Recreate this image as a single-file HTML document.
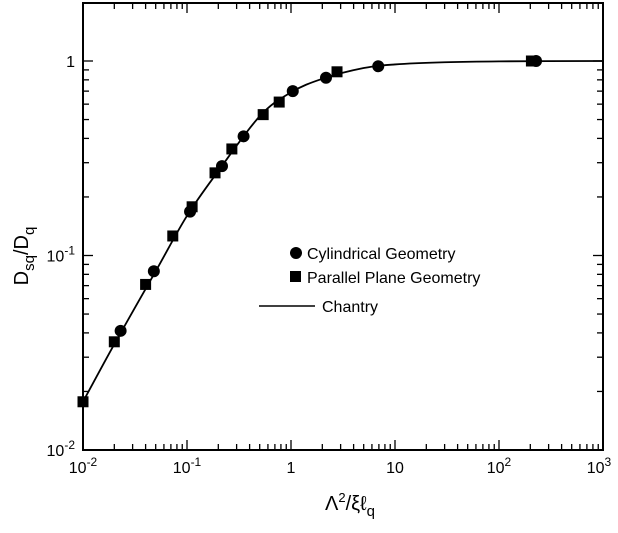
<!DOCTYPE html>
<html><head><meta charset="utf-8"><style>
body{margin:0;background:#fff}
svg{display:block;font-family:"Liberation Sans",Arial,sans-serif}
</style></head><body>
<svg id="chart" width="618" height="533" viewBox="0 0 618 533">
<g id="axes"></g>
<g id="curve"></g>
<g id="pts"></g>
<g>
 <circle cx="296" cy="253" r="6" fill="#000"/>
 <text x="307" y="259" font-size="16">Cylindrical Geometry</text>
 <rect x="290" y="271" width="11" height="11" fill="#000"/>
 <text x="307" y="283" font-size="16">Parallel Plane Geometry</text>
 <line x1="259" y1="306" x2="315" y2="306" stroke="#000" stroke-width="1.5"/>
 <text x="322" y="312" font-size="16">Chantry</text>
</g>
<text x="350" y="510" font-size="20" text-anchor="middle">Λ<tspan dy="-8" font-size="13">2</tspan><tspan dy="8">/ξℓ</tspan><tspan dy="6" font-size="15">q</tspan></text>
<text transform="translate(28,256) rotate(-90)" font-size="20" text-anchor="middle">D<tspan dy="6" font-size="15">sq</tspan><tspan dy="-6">/D</tspan><tspan dy="6" font-size="15">q</tspan></text>
</svg>
<script>
const xTickLabels=["10^-2","10^-1","1","10","10^2","10^3"];
const yTickLabels=["10^-2","10^-1","1"];
const cylX=[0.023,0.048,0.107,0.217,0.35,1.04,2.17,6.9,227];
const cylY=[0.041,0.083,0.168,0.288,0.41,0.70,0.82,0.94,1.0];
const sqX=[0.010,0.020,0.040,0.073,0.112,0.186,0.27,0.54,0.77,2.77,205];
const sqY=[0.0177,0.036,0.071,0.126,0.178,0.266,0.353,0.53,0.615,0.88,1.0];
const curveX=[0.01,0.02,0.05,0.1,0.2,0.5,1,2,5,10,30,100,1000];
const curveY=[0.0177,0.035,0.083,0.16,0.272,0.52,0.69,0.81,0.92,0.96,0.985,0.996,1.0];

const L=83,R=603,T=3,B=450;
const X=v=>L+(Math.log10(v)+2)*104;
const Y=v=>61-Math.log10(v)*194.5;
const NS="http://www.w3.org/2000/svg";
function mk(tag,at,parent){const e=document.createElementNS(NS,tag);for(const k in at)e.setAttribute(k,at[k]);parent.appendChild(e);return e;}
const ax=document.getElementById('axes');
const fr=mk('rect',{x:L,y:T,width:R-L,height:B-T,fill:'none',stroke:'#000','stroke-width':2},ax);


function lab(parent,x,y,s,anchor){const t=mk('text',{x:x,y:y,'font-size':16,'text-anchor':anchor},parent);
 const m=s.match(/^10\^(.*)$/);
 if(m){t.appendChild(document.createTextNode('10'));const ts=mk('tspan',{dy:-7,'font-size':12},t);ts.textContent=m[1];}
 else t.textContent=s;return t;}
for(let d=-2;d<=3;d++){
 for(let k=1;k<10;k++){
  if(d===3&&k>1)break;
  const v=k*Math.pow(10,d),x=X(v),len=k===1?10:6;
  const a=mk('line',{x1:x,y1:B,x2:x,y2:B-len,stroke:'#000','stroke-width':1.3},ax);
  
  
  const b=mk('line',{x1:x,y1:T,x2:x,y2:T+len,stroke:'#000','stroke-width':1.3},ax);
  
  
 }
}
xTickLabels.forEach((s,i)=>{const t=lab(ax,X(Math.pow(10,i-2))+(i===5?-4:0),473,s,'middle');
 
 });
for(let d=-2;d<=0;d++){
 for(let k=1;k<10;k++){
  const v=k*Math.pow(10,d),y=Y(v);if(y<T)break;
  const len=k===1?10:6;
  const a=mk('line',{x1:L,y1:y,x2:L+len,y2:y,stroke:'#000','stroke-width':1.3},ax);
  
  
  const b=mk('line',{x1:R,y1:y,x2:R-len,y2:y,stroke:'#000','stroke-width':1.3},ax);
  
  
 }
}
yTickLabels.forEach((s,i)=>{const t=lab(ax,75,Y(Math.pow(10,i-2))+6,s,'end');
 
 });
// curve: monotone cubic in log space
const cg=document.getElementById('curve');
const px=curveX.map(X),py=curveY.map(Y);
let d='M'+px[0]+','+py[0];
for(let i=0;i<px.length-1;i++){
 const p0=i>0?i-1:i,p3=i+2<px.length?i+2:i+1;
 const c1x=px[i]+(px[i+1]-px[p0])/6,c1y=py[i]+(py[i+1]-py[p0])/6;
 const c2x=px[i+1]-(px[p3]-px[i])/6,c2y=py[i+1]-(py[p3]-py[i])/6;
 d+=`C${c1x},${c1y} ${c2x},${c2y} ${px[i+1]},${py[i+1]}`;
}
const path=mk('path',{d:d,fill:'none',stroke:'#000','stroke-width':1.8},cg);


const pg=document.getElementById('pts');
sqX.forEach((v,i)=>{const r=mk('rect',{x:X(v)-5.5,y:Y(sqY[i])-5.5,width:11,height:11,fill:'#000'},pg);
 
 });
cylX.forEach((v,i)=>{const c=mk('circle',{cx:X(v),cy:Y(cylY[i]),r:6,fill:'#000'},pg);
 
 });
</script>
</body></html>
